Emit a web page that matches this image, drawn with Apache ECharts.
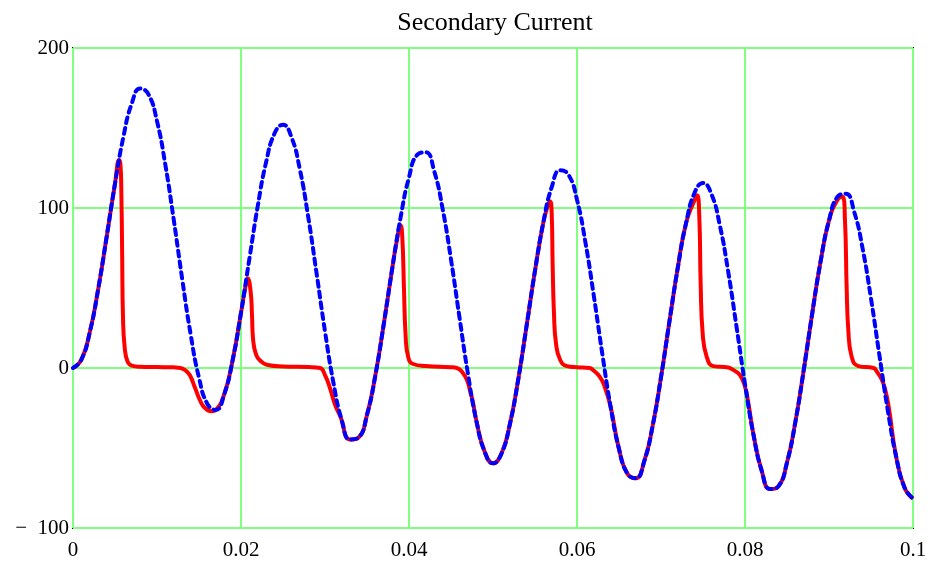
<!DOCTYPE html>
<html>
<head>
<meta charset="utf-8">
<script src="https://cdn.jsdelivr.net/npm/echarts@6/dist/echarts.min.js"></script>
<style>
  html, body { margin: 0; padding: 0; background: #fff; }
  #chart { width: 935px; height: 566px; }
</style>
</head>
<body>
<div id="chart"></div>
<script>
// values
var title = 'Secondary Current';
var xTicks = [0, 0.02, 0.04, 0.06, 0.08, 0.1];
var yTicks = [-100, 0, 100, 200];

// ideal secondary current (blue dashed), sampled every 0.001 s from t = 0
var blueStep = 0.001;
var blueI = [
  0, 5.2, 22.4, 49.3, 81.8, 115.2, 144.5, 165.4, 174.7, 170.9,
  154.3, 126.8, 92.4, 55.6, 21.2, -6.1, -22.5, -26.2, -16.5, 4.8,
  34.5, 68.3, 101.4, 128.9, 146.7, 152.1, 144.4, 124.3, 94.5, 59.1,
  22.9, -9.1, -32.7, -44.7, -43.4, -29.3, -4.4, 27.6, 62.1, 94.1,
  119.2, 133.3, 134.8, 123.0, 99.6, 67.8, 32.0, -3.1, -32.5, -52.2,
  -59.6, -53.6, -35.3, -7.3, 26.4, 60.8, 91.2, 113.2, 123.6, 120.7,
  105.1, 78.6, 45.2, 9.3, -24.2, -50.6, -66.1, -68.9, -58.4, -36.3,
  -5.8, 28.9, 62.7, 91.0, 109.5, 115.7, 108.7, 89.3, 60.2, 25.5,
  -10.0, -41.4, -64.4, -75.7, -73.8, -59.1, -33.6, -1.0, 34.0, 66.6,
  92.2, 106.9, 108.9, 97.6, 74.7, 43.4, 8.0, -26.5, -55.5, -74.8,
  -81.6
];

// saturated CT secondary current (red solid)
var redT = [
  0, 0.001, 0.002, 0.003, 0.004, 0.005, 0.0055, 0.00565, 0.00575, 0.00585,
  0.00595, 0.00615, 0.0065, 0.007, 0.008, 0.010, 0.012, 0.0128, 0.0134, 0.0139,
  0.0145, 0.0151, 0.0157, 0.0165, 0.017, 0.018, 0.019, 0.020, 0.0205, 0.0208,
  0.02115, 0.02131, 0.02143, 0.02182, 0.02242, 0.0232, 0.025, 0.028, 0.0294, 0.0300,
  0.0306, 0.0312, 0.0318, 0.033, 0.034, 0.035, 0.036, 0.037, 0.038, 0.0385,
  0.039, 0.0392, 0.0394, 0.0396, 0.0399, 0.0405, 0.042, 0.045, 0.0457, 0.0463,
  0.0469, 0.0473, 0.0476, 0.048, 0.049, 0.050, 0.051, 0.052, 0.053, 0.054,
  0.055, 0.056, 0.0565, 0.0568, 0.05699, 0.0571, 0.05726, 0.0575, 0.058, 0.0588,
  0.060, 0.0615, 0.0619, 0.0627, 0.0633, 0.064, 0.065, 0.066, 0.067, 0.068,
  0.069, 0.070, 0.071, 0.072, 0.073, 0.074, 0.0743, 0.07456, 0.07472, 0.07496,
  0.07544, 0.07623, 0.078, 0.0786, 0.0794, 0.080, 0.0804, 0.081, 0.082, 0.083,
  0.084, 0.085, 0.086, 0.087, 0.088, 0.089, 0.090, 0.091, 0.0916, 0.0919,
  0.0921, 0.0923, 0.0927, 0.0935, 0.0953, 0.0957, 0.0963, 0.0967, 0.0971, 0.098,
  0.099, 0.1
];
var redI = [
  0, 5.2, 22.4, 49.3, 81.8, 115.2, 130, 127, 112, 72,
  32, 13, 4, 1.5, 0.8, 0.6, 0.4, 0, -1.5, -4.4,
  -12, -20, -25, -27, -26.2, -16.5, 4.8, 34.5, 50, 56,
  47.7, 33, 18.5, 8, 4, 1.9, 1, 0.6, 0, -4.4,
  -12.7, -23, -30, -44.7, -43.4, -29.3, -4.4, 27.6, 62.1, 78,
  89, 82, 50, 20, 7, 2.5, 1.2, 0.5, 0, -2.3,
  -7.5, -15, -21, -32.5, -52.2, -59.6, -53.6, -35.3, -7.3, 26.4,
  60.8, 91.2, 101, 104, 96.7, 65, 34, 15.4, 5, 1.2,
  0.5, 0, -1.2, -5.4, -11.7, -24.2, -50.6, -66.1, -68.9, -58.4,
  -36.3, -5.8, 28.9, 62.7, 91.0, 105, 108, 94.6, 53, 21.7,
  7, 1.2, 0.3, -1.2, -4.4, -11.7, -22, -41.4, -64.4, -75.7,
  -73.8, -59.1, -33.6, -1.0, 34.0, 66.6, 92.2, 105, 107, 92.5,
  50.8, 23.7, 7, 1.2, 0, -2.3, -7.5, -13.8, -24, -55.5,
  -74.8, -81.6
];

var blueData = blueI.map(function (v, i) {
  return [+(i * blueStep).toFixed(4), v];
});
var redData = redT.map(function (t, i) {
  return [t, redI[i]];
});

var serif = '"Liberation Serif", "DejaVu Serif", serif';

var option = {
  backgroundColor: '#fff',
  animation: false,
  title: {
    text: title,
    left: 490,
    top: 5,
    textAlign: 'center',
    textStyle: { fontFamily: serif, fontSize: 26, fontWeight: 'normal', color: '#000' }
  },
  grid: {
    left: 73, right: 22, top: 48, bottom: 38,
    show: true, borderColor: '#000', borderWidth: 2, backgroundColor: '#fff'
  },
  xAxis: {
    type: 'value',
    min: xTicks[0],
    max: xTicks[xTicks.length - 1],
    interval: 0.02,
    axisLine: { show: false },
    axisTick: { show: false },
    splitLine: { show: true, lineStyle: { color: '#80ff80', width: 2 } },
    axisLabel: {
      margin: 12,
      fontFamily: serif, fontSize: 21, color: '#000',
      formatter: function (v) { return String(parseFloat(v.toFixed(2))); }
    }
  },
  yAxis: {
    type: 'value',
    min: yTicks[0],
    max: yTicks[yTicks.length - 1],
    interval: 100,
    axisLine: { show: false },
    axisTick: { show: false },
    splitLine: { show: true, lineStyle: { color: '#80ff80', width: 2 } },
    axisLabel: {
      margin: 4,
      fontFamily: serif, fontSize: 21, color: '#000',
      formatter: function (v) { return v < 0 ? '\u2212  ' + Math.abs(v) : String(v); }
    }
  },
  series: [
    {
      name: 'saturated',
      type: 'line',
      data: redData,
      showSymbol: false,
      smooth: 0.5,
      lineStyle: { color: '#ff0000', width: 4 },
      z: 2
    },
    {
      name: 'ideal',
      type: 'line',
      data: blueData,
      showSymbol: false,
      smooth: 0.5,
      lineStyle: { color: '#0000ff', width: 4, type: [6, 5], cap: 'round' },
      z: 3
    }
  ]
};

var chart = echarts.init(document.getElementById('chart'));
chart.setOption(option);
</script>
</body>
</html>
